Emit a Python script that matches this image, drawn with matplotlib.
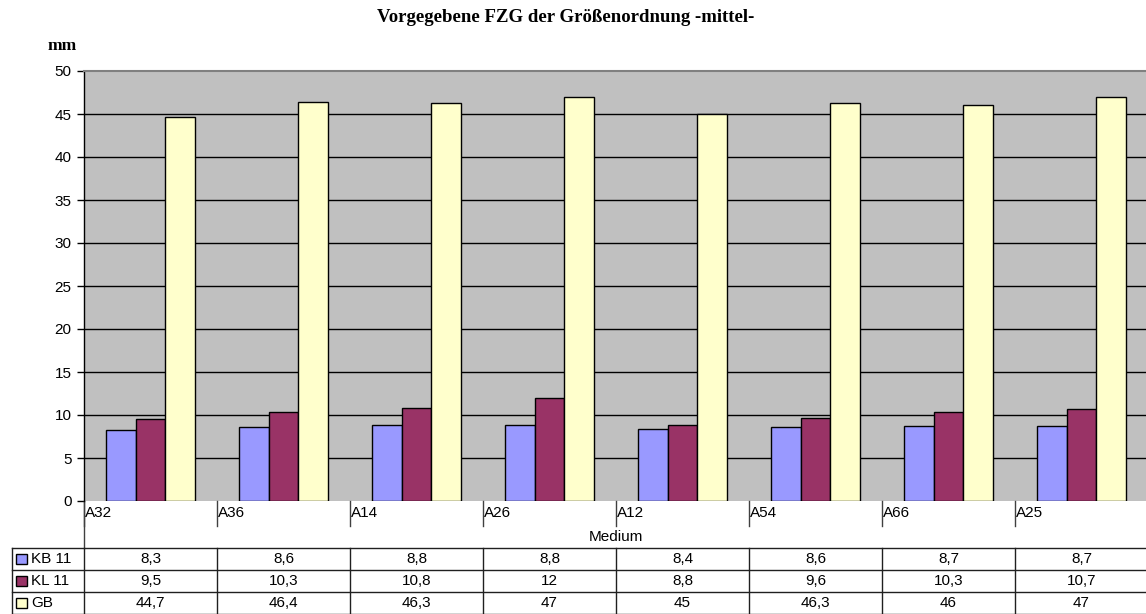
import matplotlib
matplotlib.use("Agg")
import matplotlib.pyplot as plt
from matplotlib.transforms import blended_transform_factory
from matplotlib.patches import Rectangle

categories = ["A32", "A36", "A14", "A26", "A12", "A54", "A66", "A25"]
series_names = ["KB 11", "KL 11", "GB"]
kb11 = [8.3, 8.6, 8.8, 8.8, 8.4, 8.6, 8.7, 8.7]
kl11 = [9.5, 10.3, 10.8, 12, 8.8, 9.6, 10.3, 10.7]
gb = [44.7, 46.4, 46.3, 47, 45, 46.3, 46, 47]
yticks = [0, 5, 10, 15, 20, 25, 30, 35, 40, 45, 50]

colors = ["#9999FF", "#993366", "#FFFFCC"]
series = [kb11, kl11, gb]

W, H = 1146, 614
fig = plt.figure(figsize=(W / 100, H / 100), dpi=100)
FS = 11
SANS = "Liberation Sans"
SERIF = "Liberation Serif"

def fy(py):
    return 1 - py / H

def fx(px):
    return px / W

ax_left, ax_right, ax_top, ax_bottom = 84, 1148, 71, 501
ax = fig.add_axes([fx(ax_left), fy(ax_bottom), fx(ax_right - ax_left), fy(ax_top) - fy(ax_bottom)])
ax.set_facecolor("#C0C0C0")
ax.set_xlim(0, len(categories))
ax.set_ylim(0, 50)

for y in yticks[1:-1]:
    ax.axhline(y, color="black", lw=1.0, zorder=1)

bw = 0.222
for j, (vals, c) in enumerate(zip(series, colors)):
    xs = [i + 0.5 + (j - 1) * bw for i in range(len(categories))]
    ax.bar(xs, vals, width=bw, color=c, edgecolor="black", lw=1.0, zorder=3)

ax.set_xticks([])
ax.set_yticks(yticks)
ax.set_yticklabels([str(v) for v in yticks], fontsize=FS, family=SANS)
ax.tick_params(axis="y", length=5, width=1, pad=4)
for s in ["right", "bottom"]:
    ax.spines[s].set_visible(False)
ax.spines["top"].set_color("#808080")
ax.spines["top"].set_linewidth(1.5)
ax.spines["left"].set_color("black")
ax.spines["left"].set_linewidth(1.0)

# Title and unit label
fig.text(fx(566), fy(18), "Vorgegebene FZG der Größenordnung -mittel-", ha="center", va="center",
         fontsize=13.5, fontweight="bold", family=SERIF)
fig.text(fx(62), fy(46), "mm", ha="center", va="center", fontsize=12.5, fontweight="bold",
         family=SERIF)

trans = blended_transform_factory(ax.transData, fig.transFigure)
n = len(categories)

# category ticks and labels
for i, cat in enumerate(categories):
    ax.plot([i, i], [fy(501), fy(526)], transform=trans, color="#404040", lw=1, clip_on=False)
    ax.text(i + 0.01, fy(513), cat, transform=trans, ha="left", va="center", fontsize=FS,
            family=SANS)
# extension of axis line
ax.plot([0, 0], [fy(501), fy(548)], transform=trans, color="#404040", lw=1, clip_on=False)
fig.text(fx(616), fy(537), "Medium", ha="center", va="center", fontsize=FS, family=SANS)

# data table
row_lines = [548, 570, 592, 614]
left_px = 12
for k, py in enumerate(row_lines):
    fig.add_artist(plt.Line2D([fx(left_px), 1], [fy(py), fy(py)], color="#202020", lw=1))
fig.add_artist(plt.Line2D([fx(left_px), fx(left_px)], [fy(548), fy(614)], color="#202020", lw=1))
for i in range(n + 1):
    ax.plot([i, i], [fy(548), fy(614)], transform=trans, color="#202020", lw=1, clip_on=False)

def fmt(v):
    return f"{v:g}".replace(".", ",")

for r, (name, vals, c) in enumerate(zip(series_names, series, colors)):
    yc = (row_lines[r] + row_lines[r + 1]) / 2
    fig.add_artist(Rectangle((fx(16), fy(yc + 5)), fx(11), fy(yc - 5) - fy(yc + 5),
                             facecolor=c, edgecolor="black", lw=1))
    fig.text(fx(31), fy(yc), name, ha="left", va="center", fontsize=FS, family=SANS)
    for i, v in enumerate(vals):
        ax.text(i + 0.5, fy(yc), fmt(v), transform=trans, ha="center", va="center", fontsize=FS,
                family=SANS)

fig.savefig("out.png", dpi=100)
